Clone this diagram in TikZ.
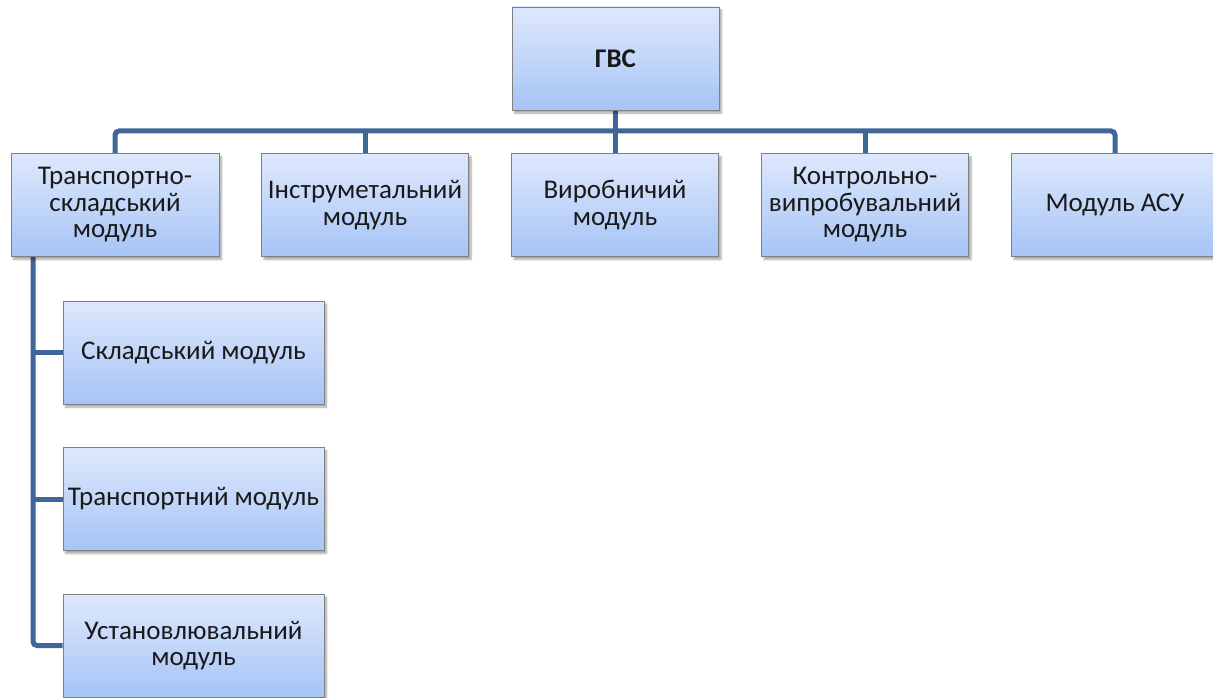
\documentclass[tikz,border=0pt]{standalone}
\usepackage{fontspec}
\setmainfont{Carlito}
\usetikzlibrary{shadows.blur,backgrounds}
\definecolor{boxtop}{RGB}{222,232,252}
\definecolor{boxbot}{RGB}{166,196,246}
\definecolor{boxline}{RGB}{128,128,128}
\definecolor{linkblue}{RGB}{62,102,152}
\tikzset{
  box/.style={draw=boxline, line width=0.9pt, top color=boxtop, bottom color=boxbot,
    inner sep=2pt, align=center, text=black!90,
    font=\fontsize{27}{26.5}\selectfont,
    blur shadow={shadow xshift=2.5pt, shadow yshift=-3pt, shadow blur steps=6, shadow opacity=35}},
  wide/.style={box, minimum width=207pt, minimum height=103pt},
  child/.style={box, minimum width=261pt, minimum height=103pt},
  link/.style={draw=linkblue, line width=5pt, rounded corners=4pt}
}
\begin{document}
\begin{tikzpicture}[x=1pt, y=-1pt]
  \useasboundingbox (0,0) rectangle (1213,698);
  \begin{scope}
  \clip (0,0) rectangle (1213,698);
  % top node
  \node[wide] (g) at (615.5,58.5) {\textbf{ГВС}};
  % second row
  \node[wide, minimum width=208pt] (t1) at (115,205) {Транспортно-\\складський\\модуль};
  \node[wide] (t2) at (365,205) {Інструметальний\\модуль};
  \node[wide] (t3) at (615,205) {Виробничий\\модуль};
  \node[wide] (t4) at (865,205) {Контрольно-\\випробувальний\\модуль};
  \node[wide] (t5) at (1115,205) {Модуль АСУ};
  % sub-modules of the first block
  \node[child] (c1) at (193.5,352.5) {Складський модуль};
  \node[child] (c2) at (193.5,499) {Транспортний модуль};
  \node[child] (c3) at (193.5,645.5) {Установлювальний\\модуль};
  % connector routing points
  \coordinate (bus) at (0,131);
  \coordinate (trunk) at (33,0);
  \begin{scope}[on background layer]
    \draw[link] (t1.north) -- (t1.north |- bus) -- (t5.north |- bus) -- (t5.north);
    \draw[link] (g.south) -- (g.south |- bus);
    \draw[link] (t2.north) -- (t2.north |- bus);
    \draw[link] (t3.north) -- (t3.north |- bus);
    \draw[link] (t4.north) -- (t4.north |- bus);
    \draw[link] (trunk |- t1.south) -- (trunk |- c3.west) -- (c3.west);
    \draw[link] (c1.west) -- (c1.west -| trunk);
    \draw[link] (c2.west) -- (c2.west -| trunk);
  \end{scope}
  \end{scope}
\end{tikzpicture}
\end{document}
